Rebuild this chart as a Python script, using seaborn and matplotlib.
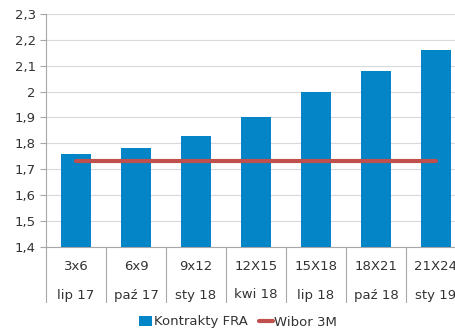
import numpy as np
import pandas as pd
import matplotlib
matplotlib.use("Agg")
import matplotlib.pyplot as plt
import matplotlib.transforms as mtransforms
from matplotlib.patches import Patch
from matplotlib.lines import Line2D
import seaborn as sns

contracts = ["3x6", "6x9", "9x12", "12X15", "15X18", "18X21", "21X24"]
months = ["lip 17", "paź 17", "sty 18", "kwi 18", "lip 18", "paź 18", "sty 19"]
fra = [1.76, 1.78, 1.83, 1.90, 2.00, 2.08, 2.16]
wibor = [1.73, 1.73, 1.73, 1.73, 1.73, 1.73, 1.73]
yticks = [1.4, 1.5, 1.6, 1.7, 1.8, 1.9, 2.0, 2.1, 2.2, 2.3]

BLUE = "#0385c8"
RED = "#c0504d"
TEXT = "#333333"
GRID = "#d9d9d9"
AXIS = "#a6a6a6"
FS = 9.5

sns.set_theme(style="white")
plt.rcParams["font.family"] = ["DejaVu Sans"]
plt.rcParams["font.size"] = FS

df = pd.DataFrame({"contract": contracts, "fra": fra})

fig = plt.figure(figsize=(4.56, 3.31), dpi=100)
ax = fig.add_axes([46 / 456, 84.3 / 331, 420 / 456, 232.7 / 331])

sns.barplot(data=df, x="contract", y="fra", color=BLUE, width=0.5,
            saturation=1, edgecolor="none", ax=ax, zorder=3)
sns.lineplot(x=np.arange(len(wibor)), y=wibor, color=RED, linewidth=3,
             ax=ax, zorder=4)

ax.set_ylim(1.4, 2.3)
ax.set_xlim(-0.5, len(contracts) - 0.5)
ax.set_yticks(yticks)
ax.set_yticklabels([("%g" % v).replace(".", ",") for v in yticks],
                   color=TEXT, fontsize=FS)
ax.tick_params(axis="y", length=4.3, width=0.8, color=AXIS, pad=3.0, left=True)
ax.set_xticks([])
ax.set_xlabel("")
ax.set_ylabel("")
ax.yaxis.grid(True, color=GRID, linewidth=0.8, zorder=0)
ax.set_axisbelow(True)
for side in ["top", "right"]:
    ax.spines[side].set_visible(False)
ax.spines["left"].set_color(AXIS)
ax.spines["bottom"].set_color(AXIS)
ax.spines["left"].set_linewidth(0.8)
ax.spines["bottom"].set_linewidth(0.8)

# two-row category axis with separators
trans = mtransforms.blended_transform_factory(ax.transData, fig.transFigure)
for i, (c, m) in enumerate(zip(contracts, months)):
    ax.text(i, 1 - 266 / 331, c, transform=trans, ha="center", va="center",
            color=TEXT, fontsize=FS, clip_on=False)
    ax.text(i, 1 - 295 / 331, m, transform=trans, ha="center", va="center",
            color=TEXT, fontsize=FS, clip_on=False)
for xb in np.arange(-0.5, len(contracts), 1.0):
    ax.add_line(Line2D([xb, xb], [84.3 / 331, 1 - 302 / 331], transform=trans,
                       color=AXIS, linewidth=0.8, clip_on=False))

handles = [Patch(facecolor=BLUE, edgecolor="none"),
           Line2D([0], [0], color=RED, linewidth=3)]
fig.legend(handles, ["Kontrakty FRA", "Wibor 3M"], loc="center",
           bbox_to_anchor=(238 / 456, 1 - 322 / 331), ncol=2, frameon=False,
           fontsize=FS, handlelength=1.0, handleheight=0.7,
           handletextpad=0.1, columnspacing=0.9, labelcolor=TEXT)

fig.savefig("out.png", dpi=100)
